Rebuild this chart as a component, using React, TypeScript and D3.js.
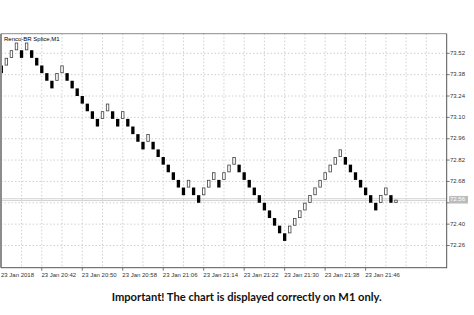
import React from "react";
import * as d3 from "d3";

// Renko bricks (open / close prices), one per M1 bar
const brickOpen = [
  73.44, 73.44, 73.49, 73.54, 73.54, 73.54, 73.54, 73.49, 73.44, 73.39,
  73.34, 73.34, 73.39, 73.39, 73.34, 73.29, 73.24, 73.19, 73.14, 73.09,
  73.09, 73.14, 73.14, 73.09, 73.09, 73.09, 73.04, 72.99, 72.94, 72.94,
  72.94, 72.89, 72.84, 72.79, 72.74, 72.69, 72.64, 72.64, 72.64, 72.59,
  72.59, 72.64, 72.69, 72.69, 72.69, 72.74, 72.79, 72.79, 72.74, 72.69,
  72.64, 72.59, 72.54, 72.49, 72.44, 72.39, 72.34, 72.34, 72.39, 72.44,
  72.49, 72.54, 72.59, 72.64, 72.69, 72.74, 72.79, 72.84, 72.84, 72.79,
  72.74, 72.69, 72.64, 72.59, 72.54, 72.54, 72.59, 72.59, 72.54,
];
const brickClose = [
  73.39, 73.49, 73.54, 73.59, 73.49, 73.59, 73.49, 73.44, 73.39, 73.34,
  73.29, 73.39, 73.44, 73.34, 73.29, 73.24, 73.19, 73.14, 73.09, 73.04,
  73.14, 73.19, 73.09, 73.04, 73.14, 73.04, 72.99, 72.94, 72.89, 72.99,
  72.89, 72.84, 72.79, 72.74, 72.69, 72.64, 72.59, 72.69, 72.59, 72.54,
  72.64, 72.69, 72.74, 72.64, 72.74, 72.79, 72.84, 72.74, 72.69, 72.64,
  72.59, 72.54, 72.49, 72.44, 72.39, 72.34, 72.29, 72.39, 72.44, 72.49,
  72.54, 72.59, 72.64, 72.69, 72.74, 72.79, 72.84, 72.89, 72.79, 72.74,
  72.69, 72.64, 72.59, 72.54, 72.49, 72.59, 72.64, 72.54, 72.56,
];

const priceTicks = [73.52, 73.38, 73.24, 73.1, 72.96, 72.82, 72.68, 72.54, 72.4, 72.26];
const timeTickIndex = [0, 8, 16, 24, 32, 40, 48, 56, 64, 72];
const timeTickLabels = [
  "23 Jan 2018", "23 Jan 20:42", "23 Jan 20:50", "23 Jan 20:58", "23 Jan 21:06",
  "23 Jan 21:14", "23 Jan 21:22", "23 Jan 21:30", "23 Jan 21:38", "23 Jan 21:46",
];
const currentPrice = 72.56;
const chartTitle = "Renco-BR Splice,M1";
const footnote = "Important! The chart is displayed correctly on M1 only.";

const W = 474;
const H = 315;
const L = 1;
const R = 446.7;
const T = 33.7;
const B = 267.7;
const font = "'Liberation Sans', Arial, sans-serif";

export default function App() {
  const x = d3.scaleLinear().domain([0, 88]).range([1.3, 1.3 + 88 * 5.06]);
  const y = d3.scaleLinear().domain([73.52, 72.26]).range([53.3, 245.5]);
  const gridIdx = d3.range(4, 88, 4);
  const bw = 3.3;
  const priceBoxTop = y(currentPrice) - 3.8;
  const priceBoxBottom = y(currentPrice) + 3.8;

  return (
    <svg
      width={W}
      height={H}
      style={{ position: "absolute", left: 0, top: 0, background: "#fff" }}
    >
      <rect x={0} y={0} width={W} height={H} fill="#fff" />
      {/* grid */}
      <g stroke="#c4c4c4" strokeWidth={0.8} strokeDasharray="1.5,2">
        {priceTicks.map((p) => (
          <line key={"h" + p} x1={L} x2={R} y1={y(p)} y2={y(p)} />
        ))}
        {gridIdx.map((i) => (
          <line key={"v" + i} x1={x(i)} x2={x(i)} y1={T} y2={B} />
        ))}
      </g>
      {/* current price lines */}
      <line x1={L} x2={R} y1={y(currentPrice) - 1} y2={y(currentPrice) - 1} stroke="#c8c8c8" strokeWidth={0.8} />
      <line x1={L} x2={R} y1={y(currentPrice) + 0.8} y2={y(currentPrice) + 0.8} stroke="#c8c8c8" strokeWidth={0.8} />
      {/* bricks */}
      <g>
        {brickOpen.map((o, i) => {
          const c = brickClose[i];
          const top = y(Math.max(o, c));
          const bot = y(Math.min(o, c));
          const up = c > o;
          return up ? (
            <rect
              key={i}
              x={x(i) - bw / 2 + 0.4}
              y={top + 0.4}
              width={bw - 0.8}
              height={Math.max(bot - top - 0.8, 1)}
              fill="#fff"
              stroke="#404040"
              strokeWidth={0.8}
            />
          ) : (
            <rect key={i} x={x(i) - bw / 2} y={top} width={bw} height={bot - top} fill="#000" />
          );
        })}
      </g>
      {/* frame */}
      <line x1={L} x2={L} y1={T} y2={B} stroke="#8c8c8c" strokeWidth={2} />
      <line x1={L} x2={R} y1={T} y2={T} stroke="#8c8c8c" strokeWidth={1} />
      <line x1={R} x2={R} y1={T} y2={B + 0.5} stroke="#555" strokeWidth={1} />
      <line x1={L} x2={R} y1={B} y2={B} stroke="#555" strokeWidth={1} />
      {/* title */}
      <text x={4} y={41} fontFamily={font} fontSize={6} fill="#000">
        {chartTitle}
      </text>
      {/* price axis */}
      <g fontFamily={font} fontSize={6} fill="#333">
        {priceTicks.map((p) => {
          const hidden = y(p) + 3 > priceBoxTop && y(p) - 3 < priceBoxBottom;
          return (
            <g key={"t" + p}>
              <line x1={R} x2={R + 3} y1={y(p)} y2={y(p)} stroke="#555" strokeWidth={0.8} />
              {!hidden && (
                <text x={R + 3.3} y={y(p)} dominantBaseline="middle">
                  {p.toFixed(2)}
                </text>
              )}
            </g>
          );
        })}
      </g>
      <rect x={449} y={priceBoxTop} width={19} height={7.6} fill="#bcbcbc" />
      <text
        x={450}
        y={y(currentPrice)}
        dominantBaseline="middle"
        fontFamily={font}
        fontSize={6}
        fill="#fff"
      >
        {currentPrice.toFixed(2)}
      </text>
      {/* time axis */}
      <g fontFamily={font} fontSize={6} fill="#333">
        {timeTickIndex.map((idx, k) => (
          <g key={"x" + idx}>
            {k > 0 && <line x1={x(idx)} x2={x(idx)} y1={B} y2={B + 3} stroke="#555" strokeWidth={0.8} />}
            <text x={Math.max(x(idx) - 0.4, 1)} y={276.5}>
              {timeTickLabels[k]}
            </text>
          </g>
        ))}
      </g>
      {/* footnote */}
      <text
        x={111.7}
        y={300.5}
        fontFamily="Lato, 'Open Sans', sans-serif"
        fontWeight="bold"
        fontSize={11.5}
        fill="#111"
        textLength={270}
        lengthAdjust="spacingAndGlyphs"
      >
        {footnote}
      </text>
    </svg>
  );
}
